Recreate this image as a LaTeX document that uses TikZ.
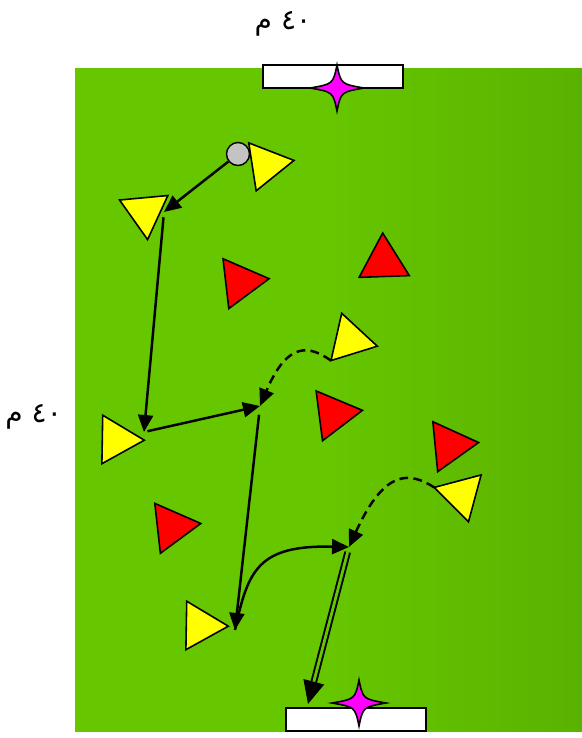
\documentclass[tikz,border=0pt]{standalone}
\usepackage{fontspec}
\usetikzlibrary{arrows.meta,shapes.geometric,calc}
\TeXXeTstate=1
\newfontfamily\arabicfont[Script=Arabic]{DejaVu Sans}
\definecolor{pitch}{RGB}{102,198,0}
\definecolor{pitchdark}{RGB}{90,178,0}
\definecolor{yellow}{RGB}{255,255,0}
\definecolor{red}{RGB}{255,0,0}
\definecolor{pink}{RGB}{255,0,255}
\definecolor{ballgray}{RGB}{195,195,195}
\tikzset{target/.pic={\draw[fill=pink, line width=0.9pt] (0,-23) .. controls (4,-4) .. (27,0) .. controls (4,4) .. (0,23) .. controls (-4,4) .. (-27,0) .. controls (-4,-4) .. (0,-23) -- cycle;}}

\begin{document}
\begin{tikzpicture}[x=0.02cm, y=-0.02cm,
player/.style={regular polygon, regular polygon sides=3, draw=black, line width=0.9pt, inner sep=0pt, outer sep=0pt},
yp/.style={player, fill=yellow, minimum size=1.12cm},
rp/.style={player, fill=red, minimum size=1.16cm},
goal/.style={draw=black, fill=white, line width=0.8pt, minimum width=2.8cm, minimum height=0.46cm, inner sep=0pt},
pass/.style={-{Triangle[length=3.4mm,width=3mm]}, line width=1.4pt},
move/.style={pass, dash pattern=on 5pt off 3pt},
shot/.style={-{Triangle[length=4.6mm,width=4.2mm]}, line width=1.1pt, double=pitch, double distance=1.6pt},
dist/.style={font=\arabicfont\fontsize{16}{19}\selectfont, inner sep=0pt}]
\useasboundingbox (0,0) rectangle (582,738);
% pitch
\fill[left color=pitch, right color=pitchdark, middle color=pitch] (75,68) rectangle (582,731);
\node[goal] (goaltop) at (333,76.5) {};
\node[goal] (goalbot) at (356,719.5) {};
\pic at (337,88) {target};
\pic at (359,703) {target};
\node[dist] (lentop) at (283,24) {\beginR\beginL ٤٠\endL{} م\endR};
\node[dist, anchor=west] (lenleft) at (5,417) {\beginR\beginL ٤٠\endL{} م\endR};
% players
\node[yp, rotate=-81.2] (y1) at (266.3,164.7) {};
\node[yp, rotate=-174.7] (y2) at (145,211.7) {};
\node[yp, rotate=-91] (y3) at (116.3,439.7) {};
\node[yp, rotate=-91] (y4) at (200.3,625.7) {};
\node[yp, rotate=-102.8] (y5) at (350,340) {};
\node[yp, rotate=74.9] (y6) at (461.3,494.7) {};
\node[rp, rotate=-83.4] (r1) at (240.3,282) {};
\node[rp, rotate=2] (r2) at (383.7,262) {};
\node[rp, rotate=-82.7] (r3) at (333.7,414) {};
\node[rp, rotate=-84.5] (r4) at (449.7,445.3) {};
\node[rp, rotate=-83.6] (r5) at (172,526.7) {};
\node[circle, draw=black, fill=ballgray, line width=0.8pt, minimum size=0.46cm, inner sep=0pt] (ball) at (238,154) {};
% runs
\coordinate (c1) at (164,212);
\coordinate (c2) at (144,432);
\coordinate (c3) at (260,406);
\coordinate (c4) at (235,630);
\coordinate (c5) at (349,547);
\coordinate (shottip) at (308,704);
\draw[pass] (ball) -- (c1);
\draw[pass, shorten <=3pt] (c1) -- (c2);
\draw[pass, shorten <=2pt] (c2) -- (c3);
\draw[move] (y5.corner 3) .. controls (310,346) and (288,340) .. (c3);
\draw[pass, shorten <=5pt] (c3) -- (c4);
\draw[pass] (c4) .. controls (248,570) and (258,545) .. (c5);
\draw[move] (y6.corner 1) .. controls (410,472) and (385,468) .. (c5);
\draw[shot, shorten <=3pt] (c5) -- (shottip);
\end{tikzpicture}
\end{document}
